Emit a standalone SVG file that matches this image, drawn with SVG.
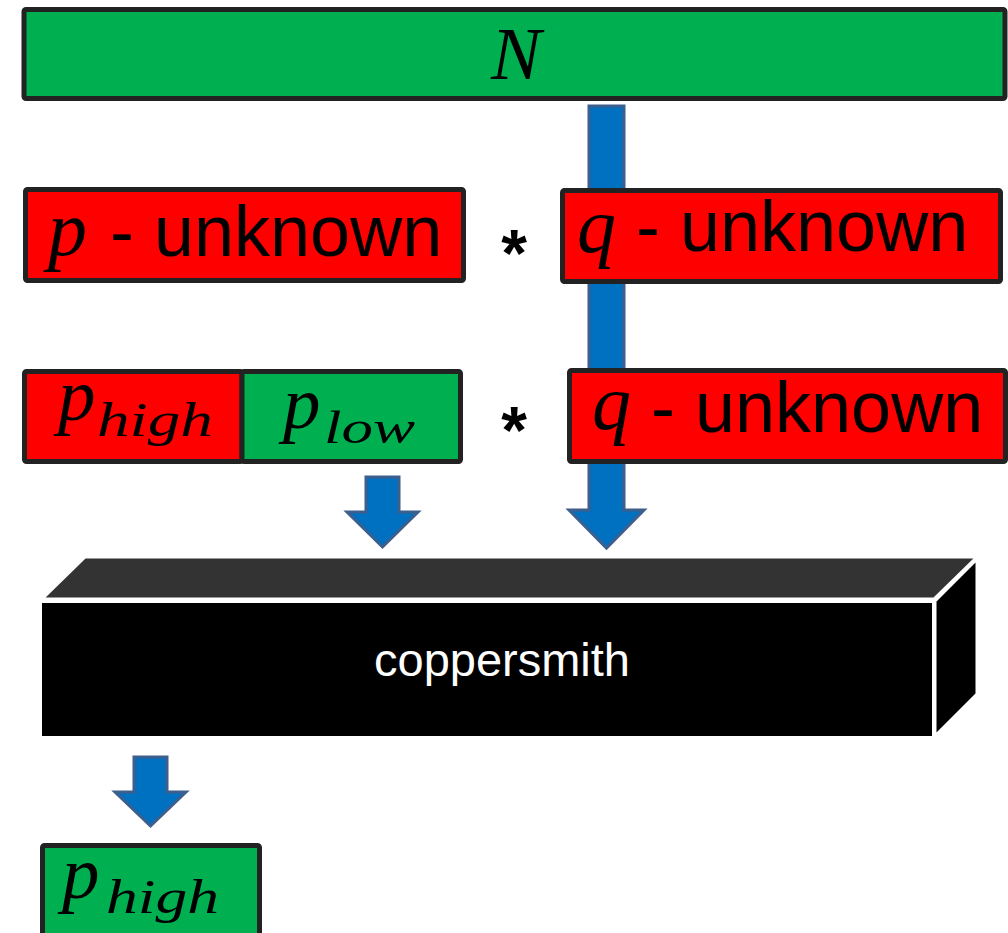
<svg xmlns="http://www.w3.org/2000/svg" width="1008" height="933" viewBox="0 0 1008 933">
  <style>
    .box { stroke: #222222; stroke-width: 5; stroke-linejoin: round; }
    .green { fill: #00B050; }
    .red { fill: #FF0000; }
    .arrow { fill: #0070C0; stroke: #3C5F8E; stroke-width: 3; stroke-linejoin: miter; }
    .math { font-family: "Liberation Serif", "DejaVu Serif", serif; font-style: italic; fill: #000000; }
    .label { font-family: "Liberation Sans", Arial, sans-serif; fill: #000000; }
    .star { font-family: "Liberation Sans", Arial, sans-serif; font-weight: bold; font-size: 66px; fill: #000000; text-anchor: middle; }
    .cube { stroke: #FFFFFF; stroke-width: 3; stroke-linejoin: miter; }
  </style>
  <rect width="1008" height="933" fill="#FFFFFF"/>

  <g id="connectors">
    <polygon id="arrow-N-to-coppersmith" class="arrow" points="589,106 624,106 624,510 644,510 606.5,548 569,510 589,510"/>
    <polygon id="arrow-plow-to-coppersmith" class="arrow" points="366,477 399,477 399,512 418,512 382.5,547 347,512 366,512"/>
    <polygon id="arrow-coppersmith-to-phigh" class="arrow" points="134,757 167,757 167,792 186,792 150.5,826 115,792 134,792"/>
  </g>

  <g id="node-N">
    <rect class="box green" x="24" y="9.5" width="981" height="89" rx="2"/>
    <text class="math" x="516" y="79" font-size="75" text-anchor="middle">N</text>
  </g>

  <g id="node-p-unknown">
    <rect class="box red" x="25.5" y="189.5" width="438" height="91" rx="2"/>
    <text class="math" x="48" y="255" font-size="78">p</text>
    <text class="label" x="110" y="256" font-size="72">- unknown</text>
  </g>

  <g id="op-mult-1">
    <text class="star" x="514" y="276">*</text>
  </g>

  <g id="node-q-unknown">
    <rect class="box red" x="562.5" y="190.5" width="438" height="91" rx="2"/>
    <text class="math" x="577" y="252" font-size="78">q</text>
    <text class="label" x="636" y="251" font-size="72">- unknown</text>
  </g>

  <g id="node-p-high">
    <rect class="box red" x="24.5" y="371.5" width="217.5" height="90" rx="2"/>
    <text class="math" x="58" y="420" font-size="75">p</text>
    <text class="math" x="97" y="436" font-size="48" textLength="116" lengthAdjust="spacingAndGlyphs">high</text>
  </g>

  <g id="node-p-low">
    <rect class="box green" x="242" y="371.5" width="218.5" height="90" rx="2"/>
    <text class="math" x="283" y="428" font-size="75">p</text>
    <text class="math" x="324" y="443" font-size="46" textLength="91" lengthAdjust="spacingAndGlyphs">low</text>
  </g>

  <g id="op-mult-2">
    <text class="star" x="514" y="453">*</text>
  </g>

  <g id="node-q-unknown-2">
    <rect class="box red" x="569.5" y="370.5" width="436" height="91" rx="2"/>
    <text class="math" x="592" y="429" font-size="78">q</text>
    <text class="label" x="651" y="432" font-size="72">- unknown</text>
  </g>

  <g id="node-coppersmith">
    <polygon class="cube" fill="#333333" points="42,599 85,557 977,557 934,599"/>
    <polygon class="cube" fill="#000000" points="935,601 977,559 977,694 935,736"/>
    <rect class="cube" fill="#000000" x="40.5" y="601.5" width="893" height="136"/>
    <text x="502" y="676" font-family="'Liberation Sans', Arial, sans-serif" font-size="47" fill="#FFFFFF" text-anchor="middle">coppersmith</text>
  </g>

  <g id="node-p-high-result">
    <rect class="box green" x="42.5" y="845.5" width="217" height="100" rx="2"/>
    <text class="math" x="62" y="898" font-size="75">p</text>
    <text class="math" x="106" y="913" font-size="48" textLength="113" lengthAdjust="spacingAndGlyphs">high</text>
  </g>
</svg>
